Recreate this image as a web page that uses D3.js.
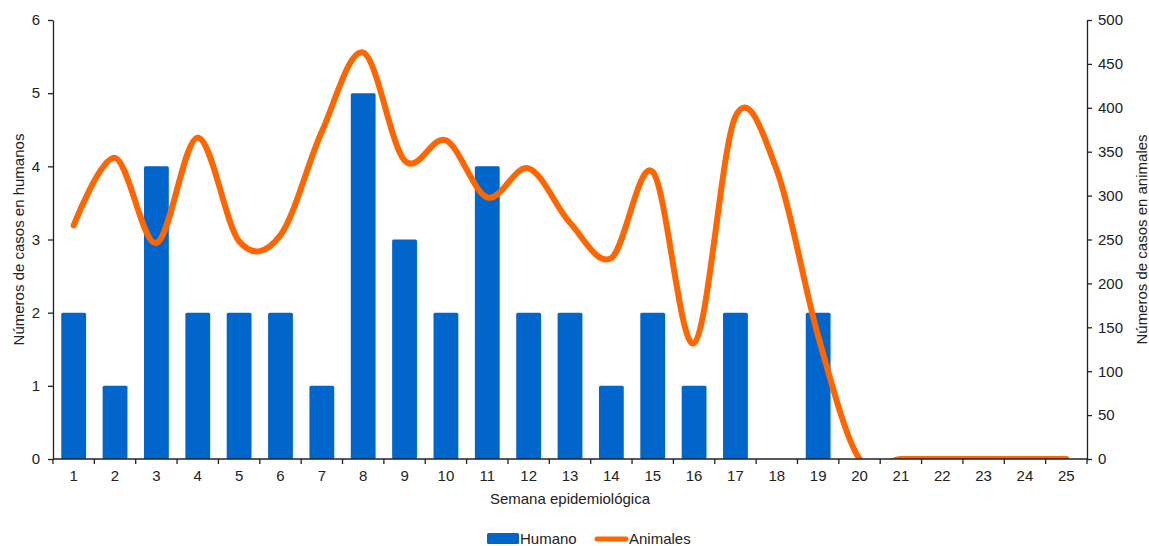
<!DOCTYPE html>
<html lang="es">
<head>
<meta charset="UTF-8">
<title>Casos por semana epidemiológica</title>
<script src="https://cdn.jsdelivr.net/npm/d3@7"></script>
<style>
  body, html { margin: 0; padding: 0; background: #fff; }
  svg text { font-family: "Liberation Sans", Arial, sans-serif; fill: #222; }
  .axis path, .axis line { stroke: #222; stroke-width: 1.3; }
  .axis text { font-size: 15px; }
</style>
</head>
<body>
<div id="grafico"></div>
<script>
// semanas epidemiologicas
const semanas = d3.range(1, 26).map(String);
// casos en humanos (eje izquierdo)
const humanos = [2, 1, 4, 2, 2, 2, 1, 5, 3, 2, 4, 2, 2, 1, 2, 1, 2, 0, 2, 0, 0, 0, 0, 0, 0];
// casos en animales (eje derecho)
const animales = [266, 343, 246, 366, 248, 255, 373, 463, 340, 363, 298, 331, 269, 229, 327, 132, 390, 329, 140, 0, 0, 0, 0, 0, 0];
const ticksIzq = [0, 1, 2, 3, 4, 5, 6];
const ticksDer = d3.range(0, 501, 50);

const width = 1149, height = 546;
const margin = {top: 20, right: 62, bottom: 87, left: 53};
const innerW = width - margin.left - margin.right;
const innerH = height - margin.top - margin.bottom;

const svg = d3.select("#grafico").append("svg")
  .attr("width", width).attr("height", height);

const g = svg.append("g").attr("transform", `translate(${margin.left},${margin.top})`);

const x = d3.scaleBand().domain(semanas).range([0, innerW]).paddingInner(0.4).paddingOuter(0.2);
const yIzq = d3.scaleLinear().domain([0, 6]).range([innerH, 0]);
const yDer = d3.scaleLinear().domain([0, 500]).range([innerH, 0]);

// barras humanos
g.selectAll(".barra")
  .data(humanos.map((v, i) => ({sem: semanas[i], v})).filter(d => d.v > 0))
  .enter().append("rect")
  .attr("class", "barra")
  .attr("x", d => x(d.sem))
  .attr("y", d => yIzq(d.v))
  .attr("width", x.bandwidth())
  .attr("height", d => innerH - yIzq(d.v))
  .attr("rx", 1.5)
  .attr("fill", "#0066cc");

// recorte del area del grafico
svg.append("clipPath").attr("id", "recorte")
  .append("rect").attr("x", 0).attr("y", -10).attr("width", innerW).attr("height", innerH + 10);

const linea = d3.line()
  .x((d, i) => x(semanas[i]) + x.bandwidth() / 2)
  .y(d => yDer(d))
  .curve(d3.curveCatmullRom.alpha(0));

g.append("path")
  .datum(animales)
  .attr("clip-path", "url(#recorte)")
  .attr("d", linea)
  .attr("fill", "none")
  .attr("stroke", "#ff6600")
  .attr("stroke-width", 6)
  .attr("stroke-linecap", "round")
  .attr("stroke-linejoin", "round");

// ejes
const ejeX = g.append("g").attr("class", "axis")
  .attr("transform", `translate(0,${innerH})`)
  .call(d3.axisBottom(x).tickSize(0).tickPadding(11));
ejeX.select(".domain").attr("d", `M0,0H${innerW}`);
// marcas entre categorias
ejeX.selectAll(".sep")
  .data(d3.range(0, semanas.length + 1))
  .enter().append("line")
  .attr("class", "sep")
  .attr("x1", i => i * x.step()).attr("x2", i => i * x.step())
  .attr("y1", 0).attr("y2", 5);

const ejeIzq = g.append("g").attr("class", "axis")
  .call(d3.axisLeft(yIzq).tickValues(ticksIzq).tickFormat(d3.format("d"))
    .tickSize(5).tickSizeOuter(0).tickPadding(8));

const ejeDer = g.append("g").attr("class", "axis")
  .attr("transform", `translate(${innerW},0)`)
  .call(d3.axisRight(yDer).tickValues(ticksDer).tickFormat(d3.format("d"))
    .tickSize(5).tickSizeOuter(0).tickPadding(6));

// titulos de ejes
svg.append("text")
  .attr("x", margin.left + innerW / 2).attr("y", 504)
  .attr("text-anchor", "middle").attr("font-size", 15)
  .text("Semana epidemiológica");

svg.append("text")
  .attr("transform", `translate(24,${margin.top + innerH / 2}) rotate(-90)`)
  .attr("text-anchor", "middle").attr("font-size", 15)
  .text("Números de casos en humanos");

svg.append("text")
  .attr("transform", `translate(1147,${margin.top + innerH / 2}) rotate(-90)`)
  .attr("text-anchor", "middle").attr("font-size", 15)
  .text("Números de casos en animales");

// leyenda
const ley = svg.append("g").attr("transform", "translate(487,539)");
ley.append("rect").attr("x", 0).attr("y", -6).attr("width", 32).attr("height", 11)
  .attr("rx", 1.5).attr("fill", "#0066cc");
ley.append("text").attr("x", 33).attr("y", 5).attr("font-size", 15).text("Humano");
ley.append("line").attr("x1", 110).attr("x2", 139).attr("y1", 0).attr("y2", 0)
  .attr("stroke", "#ff6600").attr("stroke-width", 5).attr("stroke-linecap", "round");
ley.append("text").attr("x", 142).attr("y", 5).attr("font-size", 15).text("Animales");
</script>
</body>
</html>
